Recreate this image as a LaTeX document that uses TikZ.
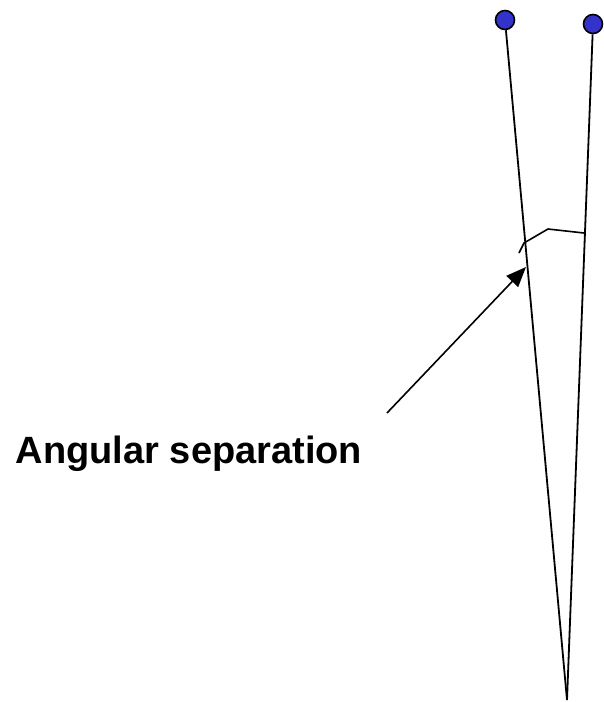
\documentclass[tikz,border=0pt]{standalone}
\usepackage{fontspec}
\setmainfont{Liberation Sans}
\usetikzlibrary{arrows.meta}
\definecolor{starblue}{HTML}{3333CC}

\begin{document}
\begin{tikzpicture}[x=1pt, y=-1pt, >={Triangle[length=20pt, width=16pt]},
  star/.style={circle, draw=black, line width=1.6pt, fill=starblue, minimum size=19pt, inner sep=0pt},
  ray/.style={black, line width=1.8pt}]

% Frame
\useasboundingbox (0,0) rectangle (603,702);

% Two stars and the observer
\node[star] (lstar) at (505,20) {};
\node[star] (rstar) at (593,24) {};
\coordinate (apex) at (567,700);

\draw[ray] (lstar) -- (apex);
\draw[ray] (rstar) -- (apex);

% Angle mark
\draw[black, line width=1.6pt] (519,253) -- (524,243) -- (548,229) -- (584,233);

% Label
\node[font=\fontsize{38}{44}\selectfont\bfseries] (label) at (189,454) {Angular separation};
\coordinate (tail) at (387,413);
\coordinate (tip) at (526,267);
\draw[->, line width=1.6pt] (tail) -- (tip);

\end{tikzpicture}
\end{document}
